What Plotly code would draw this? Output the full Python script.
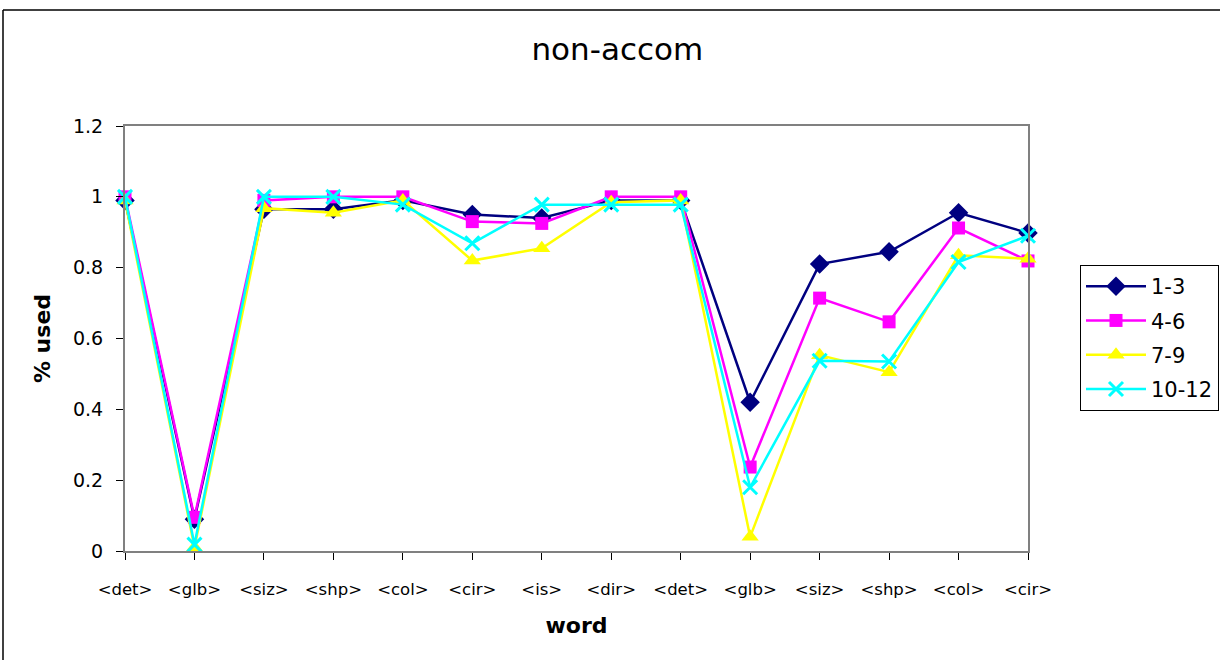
import plotly.graph_objects as go

# Word slots along the utterance (labels repeat, so positions are indexed)
words = ["<det>", "<glb>", "<siz>", "<shp>", "<col>", "<cir>", "<is>",
         "<dir>", "<det>", "<glb>", "<siz>", "<shp>", "<col>", "<cir>"]
positions = list(range(len(words)))

age_1_3 = [0.99, 0.09, 0.965, 0.965, 0.99, 0.95, 0.94, 0.99, 0.99, 0.42, 0.81, 0.845, 0.955, 0.898]
age_4_6 = [1.0, 0.095, 0.99, 1.0, 1.0, 0.93, 0.925, 1.0, 1.0, 0.237, 0.714, 0.647, 0.912, 0.819]
age_7_9 = [0.99, 0.01, 0.968, 0.955, 0.99, 0.82, 0.855, 0.985, 0.99, 0.04, 0.553, 0.505, 0.835, 0.825]
age_10_12 = [1.0, 0.018, 1.0, 1.0, 0.978, 0.869, 0.978, 0.978, 0.978, 0.18, 0.537, 0.535, 0.816, 0.89]

series = [
    ("1-3", age_1_3, "#000080", "diamond", 15),
    ("4-6", age_4_6, "#FF00FF", "square", 13),
    ("7-9", age_7_9, "#FFFF00", "triangle-up", 15),
    ("10-12", age_10_12, "#00FFFF", "x-thin", 14),
]

y_ticks = [0, 0.2, 0.4, 0.6, 0.8, 1, 1.2]
y_tick_text = ["0", "0.2", "0.4", "0.6", "0.8", "1", "1.2"]

FONT = "DejaVu Sans, Verdana, sans-serif"

fig = go.Figure()
for name, vals, color, symbol, size in series:
    marker = dict(symbol=symbol, size=size, color=color)
    if symbol == "x-thin":
        marker["line"] = dict(color=color, width=3)
    fig.add_trace(go.Scatter(
        x=positions, y=vals, name=name, mode="lines+markers",
        legendgroup=name,
        line=dict(color=color, width=2.5),
        marker=marker, cliponaxis=False,
    ))

fig.update_layout(
    width=1220, height=660,
    margin=dict(l=125, r=192, t=126, b=109, autoexpand=False),
    paper_bgcolor="white", plot_bgcolor="white",
    font=dict(family=FONT, color="black", size=16),
    title=dict(text="non-accom", x=0.506, xref="container", xanchor="center",
               y=1 - 49 / 660, yref="container", yanchor="middle",
               font=dict(size=31, family=FONT)),
    showlegend=True,
    legend=dict(x=1080 / 1220, xref="container", xanchor="left",
                y=1 - 338 / 660, yref="container", yanchor="middle",
                bordercolor="black", borderwidth=1, bgcolor="white",
                font=dict(size=21, family=FONT),
                traceorder="grouped", tracegroupgap=4,
                itemsizing="trace", itemwidth=60),
    xaxis=dict(
        range=[0, len(words) - 1], tickmode="array", tickvals=positions,
        ticktext=words, showgrid=False, zeroline=False,
        showline=True, linecolor="#808080", linewidth=2, mirror=True,
        ticks="outside", ticklen=7, tickcolor="black",
        tickfont=dict(size=16.5), ticklabelstandoff=15,
        title=dict(text="<b>word</b>", font=dict(size=22), standoff=20),
    ),
    yaxis=dict(
        range=[0, 1.2], tickmode="array", tickvals=y_ticks, ticktext=y_tick_text,
        showgrid=False, zeroline=False,
        showline=True, linecolor="#808080", linewidth=2, mirror=True,
        ticks="outside", ticklen=7, tickcolor="black",
        tickfont=dict(size=19), ticklabelstandoff=9,
        title=dict(text="<b>% used</b>", font=dict(size=22), standoff=16),
    ),
)

# Outer chart frame (top and left edges visible inside the page)
fig.add_shape(type="line", xref="paper", yref="paper",
              x0=(3 - 125) / 903, x1=(1225 - 125) / 903,
              y0=(551 - 10) / 425, y1=(551 - 10) / 425,
              line=dict(color="black", width=1.5))
fig.add_shape(type="line", xref="paper", yref="paper",
              x0=(3 - 125) / 903, x1=(3 - 125) / 903,
              y0=(551 - 10) / 425, y1=(551 - 665) / 425,
              line=dict(color="black", width=1.5))

fig.write_html("out.html")
